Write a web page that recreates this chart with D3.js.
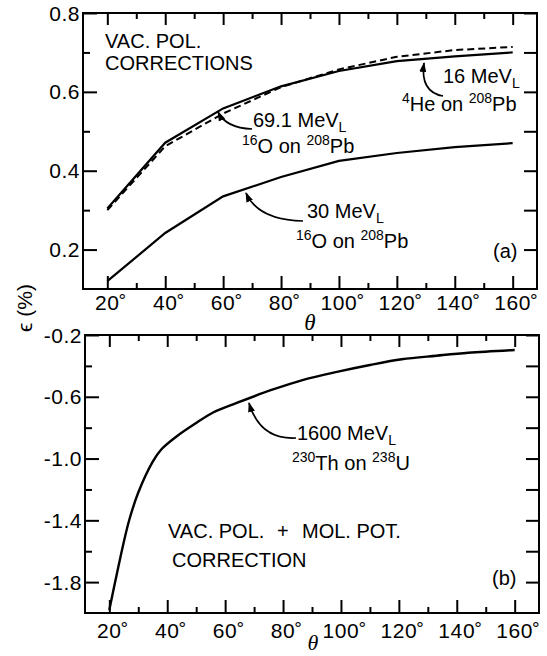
<!DOCTYPE html>
<html><head><meta charset="utf-8">
<script src="https://cdn.jsdelivr.net/npm/d3@7"></script>
<style>body{margin:0;background:#fff} text{font-family:"Liberation Sans",Arial,sans-serif;fill:#000}</style>
</head><body><svg id="c" width="547" height="656"></svg>
<script>
// ---- data ----
const xTicks = [20,40,60,80,100,120,140,160];
const xMinor = [30,50,70,90,110,130,150];
const topYTicks = [0.2,0.4,0.6,0.8];
const topYMinor = [0.3,0.5,0.7];
const botYTicks = [-1.8,-1.4,-1.0,-0.6,-0.2];
const botYMinor = [-1.6,-1.2,-0.8,-0.4];
const topYLabels = ["0.2","0.4","0.6","0.8"];
const botYLabels = ["-1.8","-1.4","-1.0","-0.6","-0.2"];
const thetaA = [20,40,60,80,100,120,140,160];
const vac69 = [0.304,0.471,0.558,0.614,0.653,0.678,0.690,0.700];
const vac16 = [0.300,0.462,0.545,0.612,0.657,0.689,0.706,0.714];
const vac30 = [0.12,0.242,0.335,0.384,0.425,0.445,0.460,0.470];
const thetaB = [20,22,25,27,30,35,38,43,50,56,64,76,87,99,110,121,133,144,160];
const molPot = [-1.98,-1.80,-1.54,-1.39,-1.22,-1.02,-0.94,-0.86,-0.77,-0.70,-0.64,-0.556,-0.49,-0.437,-0.394,-0.357,-0.334,-0.315,-0.297];

const svg = d3.select("#c");
const defs = svg.append("defs");
defs.append("marker").attr("id","ah").attr("viewBox","0 0 10 10").attr("refX",9).attr("refY",5)
  .attr("markerWidth",10).attr("markerHeight",10).attr("markerUnits","userSpaceOnUse").attr("orient","auto")
  .append("path").attr("d","M0,1.5 L10,5 L0,8.5 Z").attr("fill","#000");

const xA = d3.scaleLinear().domain([11.6,168.4]).range([83,537]);
const yA = d3.scaleLinear().domain([0.1,0.8]).range([289,13]);
const xB = d3.scaleLinear().domain([11.6,168.4]).range([85,539]);
const yB = d3.scaleLinear().domain([-2.0,-0.2]).range([613,335]);

function axisG(gen, tr){
  const g = svg.append("g").attr("transform",tr).call(gen);
  g.select(".domain").remove();
  g.selectAll("line").attr("stroke","#000").attr("stroke-width",2);
  g.selectAll("text").remove();
  return g;
}

function panel(x, y, yMaj, yMin, yLab, labBase){
  const [x0,x1] = x.range(), [y0,y1] = y.range();
  axisG(d3.axisBottom(x).tickValues(xTicks).tickSizeInner(-13).tickSizeOuter(0), `translate(0,${y0})`);
  axisG(d3.axisBottom(x).tickValues(xMinor).tickSizeInner(-6).tickSizeOuter(0), `translate(0,${y0})`);
  axisG(d3.axisTop(x).tickValues(xTicks).tickSizeInner(-12).tickSizeOuter(0), `translate(0,${y1})`);
  axisG(d3.axisTop(x).tickValues(xMinor).tickSizeInner(-6).tickSizeOuter(0), `translate(0,${y1})`);
  axisG(d3.axisLeft(y).tickValues(yMaj).tickSizeInner(-14).tickSizeOuter(0), `translate(${x0},0)`);
  axisG(d3.axisLeft(y).tickValues(yMin).tickSizeInner(-7).tickSizeOuter(0), `translate(${x0},0)`);
  axisG(d3.axisRight(y).tickValues(yMaj.concat(yMin)).tickSizeInner(-13).tickSizeOuter(0), `translate(${x1},0)`);
  svg.append("rect").attr("x",x0).attr("y",y1).attr("width",x1-x0).attr("height",y0-y1)
    .attr("fill","none").attr("stroke","#000").attr("stroke-width",2);
  yMaj.forEach((v,i)=>{
    svg.append("text").attr("x",x0-3).attr("y",y(v)).attr("dy","0.36em").attr("text-anchor","end")
      .attr("font-size",21).attr("letter-spacing",0.5).text(yLab[i]);
  });
  xTicks.forEach(v=>{
    const t = svg.append("text").attr("x",x(v)).attr("y",labBase).attr("text-anchor","middle")
      .attr("font-size",21).attr("letter-spacing",0.6).text(v);
    const w = t.node().getComputedTextLength();
    svg.append("text").attr("x",x(v)+w/2-1).attr("y",labBase-3).attr("font-size",19).text("°");
  });
}
panel(xA,yA,topYTicks,topYMinor,topYLabels,310);
panel(xB,yB,botYTicks,botYMinor,botYLabels,638);

// curves
const lnA = d3.line().x((d,i)=>xA(thetaA[i])).y(d=>yA(d));
svg.append("path").attr("d",lnA(vac69)).attr("fill","none").attr("stroke","#000").attr("stroke-width",2.2);
svg.append("path").attr("d",lnA(vac16)).attr("fill","none").attr("stroke","#000").attr("stroke-width",2).attr("stroke-dasharray","7,4");
svg.append("path").attr("d",lnA(vac30)).attr("fill","none").attr("stroke","#000").attr("stroke-width",2.2);
const lnB = d3.line().x((d,i)=>xB(thetaB[i])).y(d=>yB(d)).curve(d3.curveCatmullRom.alpha(0.5));
svg.append("path").attr("d",lnB(molPot)).attr("fill","none").attr("stroke","#000").attr("stroke-width",2.4);

// rich text helper
function rich(x, y, parts, size=20){
  const t = svg.append("text").attr("x",x).attr("y",y).attr("font-size",size);
  let cur = 0;
  parts.forEach(([s,k])=>{
    const off = k==="sup" ? -8 : k==="sub" ? 5 : 0;
    t.append("tspan").attr("dy",off-cur).attr("font-size",k==="n"?size:14).text(s);
    cur = off;
  });
  return t;
}
rich(105,48,[["VAC. POL.","n"]]);
rich(105,70,[["CORRECTIONS","n"]]);
rich(253,127,[["69.1 MeV","n"],["L","sub"]]);
rich(242,153,[["16","sup"],["O on ","n"],["208","sup"],["Pb","n"]]);
rich(443,83,[["16 MeV","n"],["L","sub"]]);
rich(402,111,[["4","sup"],["He on ","n"],["208","sup"],["Pb","n"]]);
rich(307,218,[["30 MeV","n"],["L","sub"]]);
rich(296,248,[["16","sup"],["O on ","n"],["208","sup"],["Pb","n"]]);
rich(297,440,[["1600 MeV","n"],["L","sub"]]);
rich(292,470,[["230","sup"],["Th on ","n"],["238","sup"],["U","n"]]);
rich(168,538,[["VAC. POL.","n"]]);
rich(277,538,[["+","n"]]);
rich(302,538,[["MOL. POT.","n"]]);
rich(172,567,[["CORRECTION","n"]]);
rich(493,258,[["(a)","n"]]);
rich(492,585,[["(b)","n"]]);

// arrows
const arrows = ["M252,129 Q226,128 218,112","M443,96 Q420,92 424,63","M303,221 Q258,220 246,193","M296,438 Q260,440 249,403"];
arrows.forEach(d=>svg.append("path").attr("d",d).attr("fill","none").attr("stroke","#000")
  .attr("stroke-width",1.7).attr("marker-end","url(#ah)"));

// axis titles
svg.append("text").attr("x",310).attr("y",330).attr("text-anchor","middle").attr("font-size",23)
  .attr("font-style","italic").style("font-family","'Liberation Serif',serif").text("θ");
svg.append("text").attr("x",313).attr("y",650).attr("text-anchor","middle").attr("font-size",22)
  .attr("font-style","italic").style("font-family","'Liberation Serif',serif").text("θ");
svg.append("text").attr("transform","translate(32,308) rotate(-90)").attr("text-anchor","middle")
  .attr("font-size",21).text("ϵ (%)");
</script></body></html>
